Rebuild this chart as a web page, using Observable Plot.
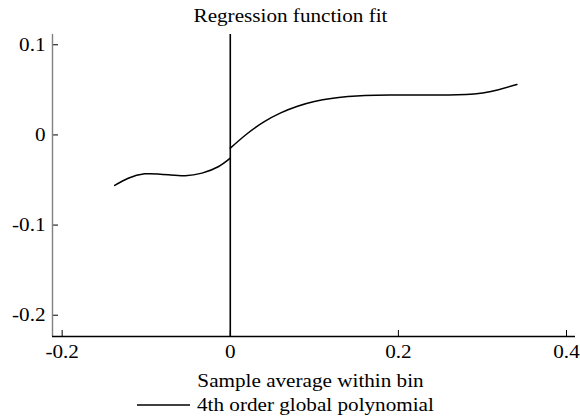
<!DOCTYPE html>
<html>
<head>
<meta charset="utf-8">
<script src="https://cdn.jsdelivr.net/npm/d3@7"></script>
<script src="https://cdn.jsdelivr.net/npm/@observablehq/plot@0.6"></script>
<style>
  html, body { margin: 0; padding: 0; background: #fff; }
  #wrap { position: relative; width: 580px; height: 416px; overflow: hidden; }
  #wrap > svg { display: block; }
  #legend { position: absolute; left: 0; top: 0; pointer-events: none; }
</style>
</head>
<body>
<div id="wrap"></div>
<script>
const titleText = "Regression function fit";
const xLabel = "Sample average within bin";
const legendLabel = "4th order global polynomial";
const xTicks = [-0.2, 0, 0.2, 0.4];
const yTicks = [-0.2, -0.1, 0, 0.1];
const xDomain = [-0.2115, 0.4107];
const yDomain = [-0.2236, 0.1114];
const cutoff = 0;

// left of cutoff
const leftX = [-0.1376, -0.1214, -0.1018, -0.0734, -0.0536, -0.0337, -0.0138, 0];
const leftY = [-0.056, -0.0481, -0.0431, -0.0442, -0.0453, -0.0424, -0.035, -0.0258];
// right of cutoff
const rightX = [0, 0.02, 0.04, 0.06, 0.08, 0.10, 0.12, 0.14, 0.16, 0.19, 0.22, 0.25, 0.27, 0.29, 0.31, 0.341];
const rightY = [-0.0147, 0.0013, 0.0145, 0.0245, 0.0319, 0.0371, 0.0405, 0.0425, 0.0437, 0.0443, 0.0444, 0.0443, 0.0446, 0.0455, 0.0481, 0.056];

const leftData = leftX.map((x, i) => ({x, y: leftY[i]}));
const rightData = rightX.map((x, i) => ({x, y: rightY[i]}));

// pick an installed serif font if there is one
function pickFont(cands, fallback) {
  const ctx = document.createElement("canvas").getContext("2d");
  const s = "Regression function fit 0.1 Sample";
  for (const f of cands) {
    for (const base of ["monospace", "sans-serif"]) {
      ctx.font = `20px ${base}`;
      const w0 = ctx.measureText(s).width;
      ctx.font = `20px "${f}", ${base}`;
      if (Math.abs(ctx.measureText(s).width - w0) > 0.5) return `"${f}", serif`;
    }
  }
  return fallback;
}
const fontFam = pickFont(["Liberation Serif", "Times New Roman", "Tinos", "DejaVu Serif", "Noto Serif", "Times", "FreeSerif", "Nimbus Roman", "Nimbus Roman No9 L", "P052", "Georgia"], "serif");

const fmt = d => d === 0 ? "0" : String(d);
const FS = 18;

const chart = Plot.plot({
  width: 580,
  height: 416,
  marginLeft: 52,
  marginRight: 5,
  marginTop: 34,
  marginBottom: 80,
  style: {fontFamily: fontFam, fontSize: FS + "px", color: "#000", background: "transparent"},
  x: {domain: xDomain},
  y: {domain: yDomain},
  marks: [
    Plot.axisY(yTicks, {tickSize: -6, tickPadding: 13, tickFormat: fmt, fontSize: FS, label: null}),
    Plot.axisX(xTicks, {tickSize: -6, tickPadding: 15, tickFormat: fmt, fontSize: FS, label: null}),
    Plot.ruleX([xDomain[0]], {stroke: "#808080", strokeWidth: 1.4}),
    Plot.ruleY([yDomain[0]], {stroke: "#000", strokeWidth: 1.5}),
    Plot.ruleX([cutoff], {stroke: "#000", strokeWidth: 1.6}),
    Plot.line(leftData, {x: "x", y: "y", curve: "natural", stroke: "#000", strokeWidth: 1.5}),
    Plot.line(rightData, {x: "x", y: "y", curve: "natural", stroke: "#000", strokeWidth: 1.5}),
    Plot.text([titleText], {frameAnchor: "top", lineAnchor: "middle", dx: -23.5, dy: -18.5, fontSize: FS, fill: "#000"}),
    Plot.text([xLabel], {frameAnchor: "bottom", lineAnchor: "middle", dx: -3.5, dy: 45.2, fontSize: FS, fill: "#000"})
  ]
});
const wrap = document.getElementById("wrap");
wrap.appendChild(chart);

// legend (below the plot area)
const ns = "http://www.w3.org/2000/svg";
const leg = document.createElementNS(ns, "svg");
leg.setAttribute("id", "legend");
leg.setAttribute("width", 580);
leg.setAttribute("height", 416);
const sw = document.createElementNS(ns, "line");
sw.setAttribute("x1", 137); sw.setAttribute("x2", 190);
sw.setAttribute("y1", 405); sw.setAttribute("y2", 405);
sw.setAttribute("stroke", "#000"); sw.setAttribute("stroke-width", 1.4);
const lt = document.createElementNS(ns, "text");
lt.setAttribute("x", 197); lt.setAttribute("y", 411);
lt.setAttribute("font-size", FS);
lt.setAttribute("fill", "#000");
lt.style.fontFamily = fontFam;
lt.textContent = legendLabel;
leg.appendChild(sw); leg.appendChild(lt);
wrap.appendChild(leg);

// match the reference's horizontal text proportions
const texts = [...chart.querySelectorAll("text"), lt];
const titleEl = texts.find(t => t.textContent === titleText);
if (titleEl) {
  const k = 194 / titleEl.getComputedTextLength();
  if (Math.abs(k - 1) > 0.02) {
    for (const t of texts) {
      const w = t.getComputedTextLength();
      if (w > 0) {
        t.setAttribute("textLength", (w * k).toFixed(2));
        t.setAttribute("lengthAdjust", "spacingAndGlyphs");
      }
    }
  }
}
</script>
</body>
</html>
